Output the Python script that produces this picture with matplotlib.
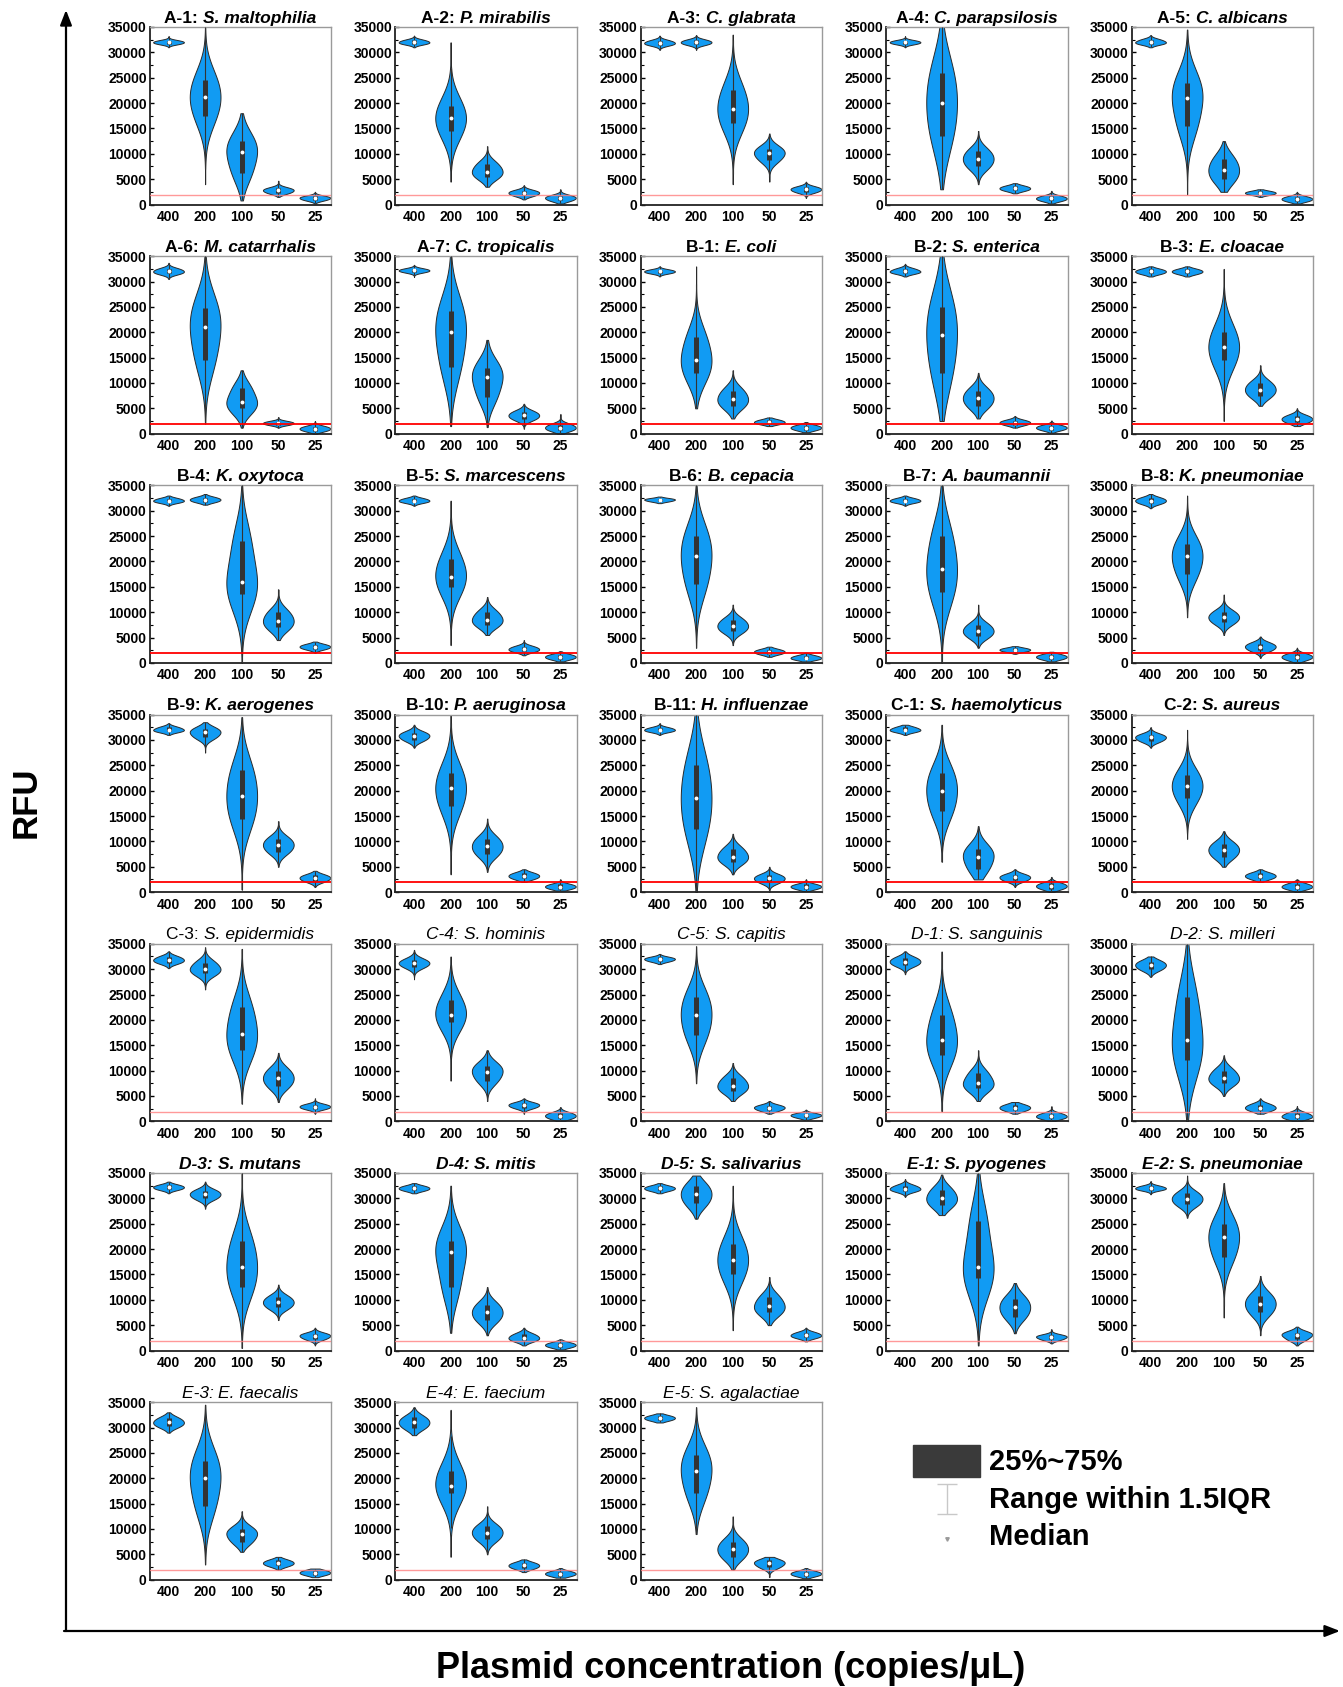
import matplotlib
matplotlib.use("Agg")
import matplotlib.pyplot as plt
import numpy as np
from matplotlib import cbook
from matplotlib.offsetbox import AnchoredOffsetbox, HPacker, TextArea

plt.rcParams["font.family"] = ["Liberation Sans", "DejaVu Sans"]

# plasmid concentrations (copies/uL) on every panel
concentrations = ["400", "200", "100", "50", "25"]

codes = ["A-1", "A-2", "A-3", "A-4", "A-5", "A-6", "A-7",
         "B-1", "B-2", "B-3", "B-4", "B-5", "B-6", "B-7", "B-8", "B-9", "B-10", "B-11",
         "C-1", "C-2", "C-3", "C-4", "C-5",
         "D-1", "D-2", "D-3", "D-4", "D-5",
         "E-1", "E-2", "E-3", "E-4", "E-5"]

species = ["S. maltophilia", "P. mirabilis", "C. glabrata", "C. parapsilosis", "C. albicans",
           "M. catarrhalis", "C. tropicalis", "E. coli", "S. enterica", "E. cloacae",
           "K. oxytoca", "S. marcescens", "B. cepacia", "A. baumannii", "K. pneumoniae",
           "K. aerogenes", "P. aeruginosa", "H. influenzae", "S. haemolyticus", "S. aureus",
           "S. epidermidis", "S. hominis", "S. capitis", "S. sanguinis", "S. milleri",
           "S. mutans", "S. mitis", "S. salivarius", "S. pyogenes", "S. pneumoniae",
           "E. faecalis", "E. faecium", "S. agalactiae"]

# RFU summaries per panel, one value per concentration (400, 200, 100, 50, 25)
rfu_low = [
    [31000, 4000, 800, 1500, 200], [31000, 4500, 3500, 1000, 200],
    [30500, 30500, 4000, 4500, 1300], [31000, 3000, 4000, 2200, 200],
    [31000, 2000, 2500, 1500, 200], [30500, 2000, 1200, 1200, 0],
    [30900, 1500, 1300, 1000, 0], [31000, 5000, 3000, 1500, 300],
    [31000, 2500, 3000, 1200, 200], [31000, 31000, 2500, 5500, 1500],
    [31000, 31200, 0, 4500, 2000], [31000, 3500, 5500, 1500, 300],
    [31500, 3000, 3500, 1200, 300], [31000, 0, 3000, 1800, 300],
    [30500, 9000, 5500, 1000, 0], [31000, 27500, 500, 5000, 1000],
    [28500, 3500, 4000, 2000, 300], [31000, 0, 3500, 0, 200],
    [31000, 6000, 2500, 1000, 0], [28500, 10500, 5000, 2000, 0],
    [30200, 26000, 3500, 3800, 1500], [28000, 8000, 4000, 1500, 0],
    [31000, 7500, 4000, 1500, 300], [29000, 2000, 4000, 1500, 0],
    [28500, 0, 5000, 1500, 0], [31000, 28000, 500, 6000, 1000],
    [31000, 3500, 3000, 1000, 200], [31000, 26000, 4000, 5000, 1800],
    [30300, 26700, 1000, 3400, 1400], [30800, 26200, 6500, 3000, 1000],
    [29000, 3000, 5500, 2000, 500], [28500, 4500, 5000, 1500, 400],
    [31000, 9000, 2000, 500, 300]]

rfu_q1 = [
    [31700, 17500, 6200, 2300, 900], [31700, 14500, 5500, 1800, 800],
    [31500, 31600, 16000, 8800, 2500], [31700, 13500, 7500, 2800, 800],
    [31700, 15500, 5000, 2000, 700], [31600, 14600, 5000, 1800, 600],
    [31900, 13200, 7300, 2900, 700], [31700, 12000, 5500, 2000, 800],
    [31700, 12000, 5500, 1800, 800], [31600, 31600, 14500, 7500, 2300],
    [31700, 31800, 13500, 7000, 2800], [31700, 15000, 7500, 2300, 800],
    [31900, 15500, 6300, 1800, 700], [31700, 14000, 5300, 2300, 800],
    [31500, 17500, 8000, 2500, 700], [31700, 30500, 14500, 8000, 2200],
    [30000, 17000, 7500, 2700, 700], [31700, 12500, 6000, 2000, 700],
    [31700, 16000, 4500, 2300, 700], [29800, 18500, 7000, 2700, 700],
    [31300, 29200, 14000, 7000, 2500], [30500, 19500, 8000, 2700, 600],
    [31600, 17000, 6000, 2200, 800], [30800, 13000, 6500, 2200, 600],
    [30000, 12000, 7500, 2200, 600], [31800, 30000, 12500, 8500, 2300],
    [31600, 12500, 6000, 2000, 700], [31600, 29000, 15000, 7500, 2600],
    [31500, 28700, 14200, 6700, 2200], [31700, 28800, 18500, 7500, 2200],
    [30300, 14500, 7500, 2800, 1000], [30000, 17000, 8000, 2300, 800],
    [31500, 17000, 4500, 2500, 800]]

rfu_median = [
    [32000, 21200, 10300, 2800, 1300], [32000, 17000, 6500, 2300, 1300],
    [31850, 32000, 18800, 10200, 3000], [32000, 20000, 9000, 3200, 1200],
    [32000, 21000, 6800, 2300, 1100], [32000, 21000, 6200, 2100, 1000],
    [32200, 20100, 11100, 3600, 1200], [32000, 14500, 6800, 2300, 1200],
    [32000, 19500, 7000, 2200, 1200], [32000, 32000, 17000, 8700, 2900],
    [32000, 32200, 16000, 8300, 3200], [32000, 17000, 8500, 2700, 1200],
    [32200, 21000, 7300, 2200, 1000], [32000, 18500, 6300, 2600, 1200],
    [32000, 21000, 9000, 3200, 1200], [32000, 31500, 19000, 9300, 2800],
    [30800, 20500, 9000, 3200, 1100], [32000, 18500, 7000, 2700, 1100],
    [32000, 20000, 7000, 2900, 1200], [30500, 21000, 8300, 3200, 1100],
    [31800, 30000, 17300, 8500, 2900], [31200, 21000, 9800, 3200, 1100],
    [32000, 21000, 7000, 2700, 1200], [31500, 16000, 7500, 2700, 1000],
    [30800, 16000, 8500, 2700, 1000], [32200, 30800, 16500, 9500, 2900],
    [32000, 19500, 7500, 2500, 1100], [32000, 30800, 17800, 8700, 3000],
    [31900, 30000, 16400, 8500, 2700], [32000, 29900, 22300, 9200, 3100],
    [31000, 20000, 9000, 3300, 1400], [31000, 18500, 9300, 2800, 1200],
    [31900, 21500, 6000, 3300, 1200]]

rfu_q3 = [
    [32300, 24500, 12500, 3200, 1600], [32400, 19500, 8000, 2700, 1700],
    [32300, 32400, 22600, 11000, 3400], [32300, 26000, 10500, 3600, 1600],
    [32500, 24000, 9000, 2600, 1500], [32500, 24800, 9000, 2400, 1400],
    [32500, 24200, 13000, 4300, 1800], [32300, 19000, 8500, 2700, 1600],
    [32500, 25000, 8500, 2600, 1600], [32400, 32400, 20000, 10000, 3500],
    [32400, 32600, 24000, 10000, 3600], [32400, 20500, 10000, 3200, 1600],
    [32400, 25000, 8500, 2600, 1400], [32400, 25000, 7500, 2900, 1600],
    [32500, 23500, 10000, 3800, 1700], [32500, 32200, 24000, 10500, 3300],
    [31400, 23500, 10500, 3700, 1500], [32400, 25000, 8500, 3300, 1500],
    [32500, 23500, 8500, 3400, 1700], [31000, 23000, 9500, 3700, 1600],
    [32400, 31300, 22500, 10000, 3300], [31800, 24000, 11000, 3600, 1600],
    [32300, 24500, 8500, 3100, 1500], [32200, 21000, 9500, 3200, 1500],
    [31500, 24500, 10000, 3300, 1600], [32600, 31500, 21500, 10500, 3300],
    [32400, 21500, 9000, 3200, 1500], [32400, 32500, 21000, 10500, 3500],
    [32500, 31700, 25500, 10200, 3000], [32400, 31000, 25000, 10800, 3500],
    [31800, 23500, 10000, 3800, 1800], [32000, 21500, 10500, 3300, 1600],
    [32300, 24500, 7500, 3800, 1600]]

rfu_high = [
    [33200, 35000, 18000, 4700, 2500], [33300, 32000, 11500, 3800, 3000],
    [33300, 33400, 33500, 14000, 4500], [33200, 35000, 14500, 4200, 2700],
    [33400, 34500, 12500, 3000, 2500], [33700, 35000, 12500, 3300, 2500],
    [33300, 35000, 18500, 5900, 3900], [33000, 33000, 12500, 3200, 2300],
    [33500, 35000, 12000, 3500, 2600], [33000, 33000, 32500, 13500, 5000],
    [33000, 33300, 35000, 14500, 4200], [33000, 32000, 13000, 4500, 2300],
    [32800, 35000, 11500, 3200, 2000], [33000, 35000, 11500, 3300, 2200],
    [33300, 33000, 13500, 5200, 3000], [33300, 33500, 34500, 14000, 4200],
    [33000, 35000, 14500, 4500, 2500], [33300, 35000, 11500, 5000, 2500],
    [33000, 33000, 13000, 4500, 3000], [32500, 32000, 12000, 4500, 2500],
    [33500, 34300, 34000, 13500, 4500], [33800, 32500, 14000, 4500, 2800],
    [33000, 34500, 11500, 4000, 2300], [33500, 33500, 14000, 3800, 3000],
    [32500, 35000, 13000, 4500, 3000], [33300, 33300, 35000, 13000, 4500],
    [33000, 32500, 12500, 4500, 2200], [33000, 34500, 32500, 14500, 4500],
    [33800, 34700, 35000, 13300, 4200], [33400, 34500, 33000, 14700, 4700],
    [33000, 34500, 13500, 4500, 2200], [34000, 33500, 14500, 4000, 2300],
    [32800, 34000, 12500, 4500, 2300]]

cutoff = 1900  # positive threshold (RFU)

# title font per panel: (code weight, code style, name weight, name style)
title_fonts = ([("bold", "normal", "bold", "italic")] * 20
               + [("normal", "normal", "normal", "italic")]
               + [("normal", "italic", "normal", "italic")] * 4
               + [("bold", "italic", "bold", "italic")] * 5
               + [("normal", "italic", "normal", "italic")] * 3)

# rows 2-4 use the strong threshold line
strong_line = [False] * 5 + [True] * 15 + [False] * 13

VIOLIN_BLUE = "#119bf3"
DARK = "#333333"


def violin_density(X, coords):
    # smooth density built around the quartiles, evaluated over the full range
    lo, q1, med, q3, hi = X
    sigma = max(0.45 * (q3 - q1), 0.12 * (hi - lo), 1.0)
    dens = np.zeros_like(coords, dtype=float)
    for c in (q1, med, q3):
        dens += np.exp(-0.5 * ((coords - c) / sigma) ** 2)
    return dens


W, H = 1343, 1687
fig = plt.figure(figsize=(W / 100, H / 100), dpi=100)

ax_w, ax_h = 181.5, 177.5
col_x0, col_step = 149.5, 245.5
row_y0, row_step = 27.0, 229.2

positions = np.arange(1, len(concentrations) + 1)

for i in range(len(codes)):
    r, c = divmod(i, 5)
    left = (col_x0 + c * col_step) / W
    bottom = 1 - (row_y0 + r * row_step + ax_h) / H
    ax = fig.add_axes([left, bottom, ax_w / W, ax_h / H])

    X = [[rfu_low[i][k], rfu_q1[i][k], rfu_median[i][k], rfu_q3[i][k], rfu_high[i][k]]
         for k in range(len(concentrations))]
    stats = cbook.violin_stats(X, violin_density, points=120)
    parts = ax.violin(stats, positions=positions, widths=0.84,
                      showmeans=False, showextrema=False, showmedians=False)
    for body in parts["bodies"]:
        body.set_facecolor(VIOLIN_BLUE)
        body.set_edgecolor("#2a2a2a")
        body.set_linewidth(0.7)
        body.set_alpha(1)

    q1 = np.array(rfu_q1[i])
    q3 = np.array(rfu_q3[i])
    iqr = q3 - q1
    w_lo = np.maximum(np.array(rfu_low[i]), q1 - 1.5 * iqr)
    w_hi = np.minimum(np.array(rfu_high[i]), q3 + 1.5 * iqr)
    ax.vlines(positions, w_lo, w_hi, color=DARK, lw=0.8, zorder=3)
    ax.vlines(positions, q1, q3, color=DARK, lw=3.6, zorder=4)
    ax.scatter(positions, rfu_median[i], s=8, color="white", zorder=5, linewidths=0)

    if strong_line[i]:
        ax.axhline(cutoff, color="#ff0000", lw=1.3, zorder=6)
    else:
        ax.axhline(cutoff, color="#ff8080", lw=1.0, alpha=0.8, zorder=6)

    ax.set_xlim(0.48, 5.44)
    ax.set_ylim(0, 35000)
    ax.set_xticks(positions)
    ax.set_xticklabels(concentrations)
    ax.set_yticks(np.arange(0, 35001, 5000))
    ax.set_yticks(np.arange(2500, 35000, 5000), minor=True)
    ax.tick_params(axis="y", which="major", direction="in", length=3, width=1,
                   labelsize=10, pad=2)
    ax.tick_params(axis="y", which="minor", direction="in", length=2, width=0.8)
    ax.tick_params(axis="x", length=0, labelsize=10, pad=4)
    for lab in ax.get_xticklabels() + ax.get_yticklabels():
        lab.set_fontweight("bold")
    for side in ("left", "bottom"):
        ax.spines[side].set_color("#222222")
        ax.spines[side].set_linewidth(1.3)
    for side in ("top", "right"):
        ax.spines[side].set_color("#9a9a9a")
        ax.spines[side].set_linewidth(1.0)

    cw, cs, nw, ns = title_fonts[i]
    head = TextArea(codes[i] + ": ", textprops=dict(fontsize=12.5, fontweight=cw, fontstyle=cs))
    name = TextArea(species[i], textprops=dict(fontsize=12.5, fontweight=nw, fontstyle=ns))
    box = HPacker(children=[head, name], align="baseline", pad=0, sep=0)
    title = AnchoredOffsetbox(loc="lower center", child=box, pad=0, frameon=False,
                              bbox_to_anchor=(0.5, 1.0), bbox_transform=ax.transAxes,
                              borderpad=0.1)
    ax.add_artist(title)

# frame with axis arrows, legend and outer labels (pixel coordinates)
over = fig.add_axes([0, 0, 1, 1], zorder=-1)
over.set_xlim(0, W)
over.set_ylim(H, 0)
over.axis("off")

arrow = dict(arrowstyle="-|>,head_length=0.9,head_width=0.35", color="black", lw=1.6,
             shrinkA=0, shrinkB=0)
over.annotate("", xy=(66, 10), xytext=(66, 1631), arrowprops=arrow)
over.annotate("", xy=(1340, 1631), xytext=(64, 1631), arrowprops=arrow)

over.text(26, 802, "RFU", rotation=90, ha="center", va="center",
          fontsize=25, fontweight="bold")
over.text(731, 1668, "Plasmid concentration (copies/\u03bcL)", ha="center", va="center",
          fontsize=26, fontweight="bold")

# legend for the box elements
over.add_patch(plt.Rectangle((913, 1445), 67, 32, facecolor="#3a3a3a",
                             edgecolor="#3a3a3a"))
over.vlines(947, 1484, 1514, color="#c8c8c8", lw=1)
over.hlines([1484, 1514], 937, 957, color="#c8c8c8", lw=1)
over.plot([947], [1539], marker="v", ms=2.5, color="#9a9a9a", ls="none")
legend_labels = ["25%~75%", "Range within 1.5IQR", "Median"]
for lab, y in zip(legend_labels, [1462, 1500, 1537]):
    over.text(989, y, lab, ha="left", va="center", fontsize=21, fontweight="bold")

fig.savefig("out.png", dpi=100)
